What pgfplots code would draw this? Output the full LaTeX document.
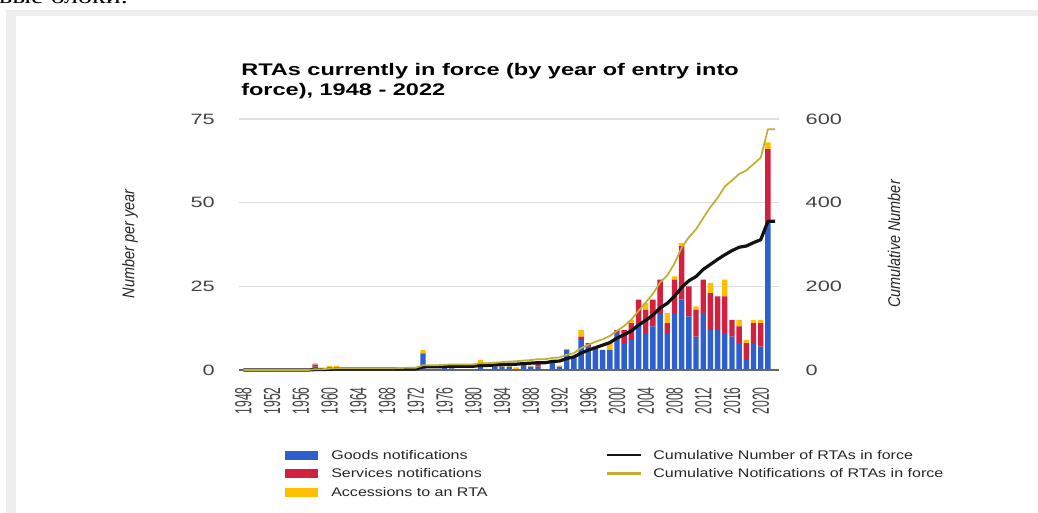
\documentclass[border=0pt]{standalone}
\usepackage{pgfplots}
\pgfplotsset{compat=1.18}
\usepackage{pgfplotstable}
\usepackage{fontspec}
\setmainfont{Liberation Sans}
\newfontfamily\titlefont[FakeStretch=1.4]{Liberation Sans}
\newfontfamily\tickfont[FakeStretch=1.45]{Liberation Sans}
\newfontfamily\xtickfont[FakeStretch=0.52]{Liberation Sans}
\newfontfamily\ytitlefont[FakeStretch=0.85]{Liberation Sans}
\newfontfamily\legfont[FakeStretch=1.28]{Liberation Sans}
\newfontfamily\rufont[FakeStretch=1.4]{Liberation Serif}
\definecolor{goods}{HTML}{2D5FCF}
\definecolor{services}{HTML}{D2213F}
\definecolor{access}{HTML}{FFBF00}
\definecolor{oliveline}{HTML}{BFB030}
\definecolor{framegray}{HTML}{EEEEEE}
\definecolor{ticktext}{HTML}{444444}

\pgfplotstableread{
year goods services accessions
1958 1 0.6 0.4
1960 0.7 0 0.5
1961 0.7 0 0.5
1970 0 0 0.5
1971 0 0 0.5
1973 5 0 1
1976 1 0 0
1977 0.5 0 0.5
1981 2 0 1
1983 1 0 0
1984 1 0 0.5
1985 1 0 0.3
1986 0 0 0.8
1987 1.5 0 0
1988 1 0 0.3
1989 1 1 0
1991 3 0 0
1992 1 0 0.3
1993 6 0 0.3
1994 4 0 0
1995 9 1 2
1996 7 1 0
1997 6 1 0
1998 6 0 0
1999 6 0 2
2000 11 1 0
2001 8 4 0
2002 9 5 1
2003 14 7 0
2004 11 7 2
2005 13 8 0
2006 17 10 0
2007 11 3 3
2008 17 10 1
2009 21 16 1
2010 16 9 0
2011 10 8 1
2012 17 10 0
2013 12 11 3
2014 12 10 0
2015 11 11 5
2016 10 5 0
2017 8 5 2
2018 3 5 1
2019 8 6 1
2020 7 7 1
2021 44 22 2
}\bars

\pgfplotstableread{
year rtas notif
1948 0 0
1949 0 0
1950 0 0
1951 0 0
1952 0 0
1953 0 0
1954 0 0
1955 0 0
1956 0 0
1957 0 0
1958 1 2
1959 1 2
1960 1.7 3.2
1961 2.4 4.4
1962 2.4 4.4
1963 2.4 4.4
1964 2.4 4.4
1965 2.4 4.4
1966 2.4 4.4
1967 2.4 4.4
1968 2.4 4.4
1969 2.4 4.4
1970 2.4 4.9
1971 2.4 5.4
1972 2.4 5.4
1973 7.4 11.4
1974 7.4 11.4
1975 7.4 11.4
1976 8.4 12.4
1977 8.9 13.4
1978 8.9 13.4
1979 8.9 13.4
1980 8.9 13.4
1981 10.9 16.4
1982 10.9 16.4
1983 11.9 17.4
1984 12.9 18.9
1985 13.9 20.2
1986 13.9 21.0
1987 15.4 22.5
1988 16.4 23.8
1989 17.4 25.8
1990 17.4 25.8
1991 20.4 28.8
1992 21.4 30.1
1993 27.4 36.4
1994 31.4 40.4
1995 40.4 52.4
1996 47.4 60.4
1997 53.4 67.4
1998 59.4 73.4
1999 65.4 81.4
2000 76.4 93.4
2001 84.4 105.4
2002 93.4 120.4
2003 107.4 141.4
2004 118.4 161.4
2005 131.4 182.4
2006 148.4 209.4
2007 159.4 226.4
2008 176.4 254.4
2009 197.4 292.4
2010 213.4 317.4
2011 223.4 336.4
2012 240.4 363.4
2013 252.4 389.4
2014 264.4 411.4
2015 275.4 438.4
2016 285.4 453.4
2017 293.4 468.4
2018 296.4 477.4
2019 304.4 492.4
2020 311.4 507.4
2021 355.4 575.4
2022 355.4 575.4
}\cumul

\begin{document}
\begin{tikzpicture}[x=0.75pt,y=0.75pt]
\useasboundingbox (0,0) rectangle (1038,513);
\fill[white] (0,0) rectangle (1038,513);
\fill[framegray] (6,0) rectangle (1038,503);
\fill[white] (16,0) rectangle (1038,497);
\node[anchor=base east, inner sep=0pt, font=\rufont\fontsize{15}{18}\selectfont] at (128,509) {вые блоки.};

% title
\node[anchor=base west, inner sep=0pt, font=\titlefont\bfseries\fontsize{12.6}{15}\selectfont] at (241,437) {RTAs currently in force (by year of entry into};
\node[anchor=base west, inner sep=0pt, font=\titlefont\bfseries\fontsize{12.6}{15}\selectfont] at (241,417) {force), 1948 - 2022};

% axis titles
\node[rotate=90, inner sep=0pt, font=\ytitlefont\itshape\fontsize{12.75}{13}\selectfont, text=black!85] at (130,269) {Number per year};
\node[rotate=90, inner sep=0pt, font=\ytitlefont\itshape\fontsize{12.75}{13}\selectfont, text=black!85] at (894,269) {Cumulative Number};

\begin{axis}[
  at={(179.25pt,107.25pt)}, anchor=south west, scale only axis,
  width=405.3pt, height=188.25pt,
  xmin=1947.4, xmax=2022.6, ymin=0, ymax=75,
  ybar stacked, bar width=0.75,
  axis line style={draw=none}, tick style={draw=none},
  ytick={0,25,50,75}, ymajorgrids,
  grid style={draw=black!13, line width=0.9pt},
  xtick={1948,1952,...,2020},
  xticklabel style={yshift=-12.75pt, rotate=90, anchor=east, inner sep=0pt, font=\xtickfont\fontsize{17.5}{17.5}\selectfont, text=ticktext},
  yticklabel style={anchor=east, inner sep=0pt, xshift=-18pt, font=\tickfont\fontsize{11.25}{12}\selectfont, text=ticktext},
  /pgf/number format/assume math mode=true,
  /pgf/number format/1000 sep={},
  clip=false,
]
\draw[black!60, line width=1.5pt] (axis cs:1947.4,0) -- (axis cs:2022.6,0);
\addplot[fill=goods, draw=none] table[x=year, y=goods] {\bars};
\addplot[fill=services, draw=none] table[x=year, y=services] {\bars};
\addplot[fill=access, draw=none] table[x=year, y=accessions] {\bars};
\end{axis}

\begin{axis}[
  at={(179.25pt,107.25pt)}, anchor=south west, scale only axis,
  width=405.3pt, height=188.25pt,
  xmin=1947.4, xmax=2022.6, ymin=0, ymax=600,
  axis x line=none, axis y line*=right,
  axis line style={draw=none}, tick style={draw=none},
  ytick={0,200,400,600},
  yticklabel style={anchor=west, inner sep=0pt, xshift=19.5pt, font=\tickfont\fontsize{11.25}{12}\selectfont, text=ticktext},
  /pgf/number format/assume math mode=true,
  clip=false,
]
\addplot[black!93, line width=2.4pt, line join=round, mark=none] table[x=year, y=rtas] {\cumul};
\addplot[oliveline, line width=1.3pt, line join=round, mark=none] table[x=year, y=notif] {\cumul};
\end{axis}

% legend
\fill[goods] (285,53) rectangle (318,62);
\fill[services] (285,35) rectangle (318,44);
\fill[access] (285,16) rectangle (318,25);
\draw[black!93, line width=2pt] (607,58) -- (641,58);
\draw[oliveline, line width=1.6pt] (607,39.5) -- (641,39.5);
\begin{scope}[every node/.style={anchor=west, inner sep=0pt, font=\legfont\fontsize{9.4}{10}\selectfont, text=black!85}]
\node at (331,58) {Goods notifications};
\node at (331,39.5) {Services notifications};
\node at (331,20.5) {Accessions to an RTA};
\node at (653,58) {Cumulative Number of RTAs in force};
\node at (653,39.5) {Cumulative Notifications of RTAs in force};
\end{scope}
\end{tikzpicture}
\end{document}
